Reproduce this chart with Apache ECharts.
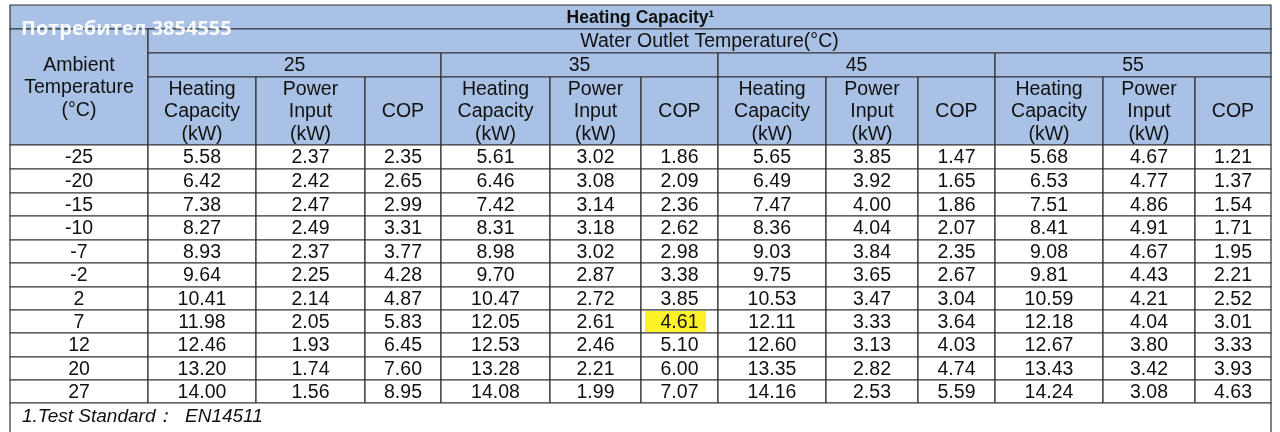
<!DOCTYPE html>
<html><head><meta charset="utf-8">
<script src="https://cdn.jsdelivr.net/npm/echarts@6/dist/echarts.min.js"></script>
<style>html,body{margin:0;padding:0;background:#fff}#c{width:1280px;height:432px}</style>
</head><body><div id="c"></div>
<script>
var title = 'Heating Capacity¹';
var subTitle = 'Water Outlet Temperature(°C)';
var ambientLabel = 'Ambient\nTemperature\n(°C)';
var outletTemps = ['25','35','45','55'];
var colLabels = ['Heating\nCapacity\n(kW)','Power\nInput\n(kW)','COP'];
var ambientTemps = ['-25','-20','-15','-10','-7','-2','2','7','12','20','27'];
var t25 = [[5.58,2.37,2.35],[6.42,2.42,2.65],[7.38,2.47,2.99],[8.27,2.49,3.31],[8.93,2.37,3.77],[9.64,2.25,4.28],[10.41,2.14,4.87],[11.98,2.05,5.83],[12.46,1.93,6.45],[13.20,1.74,7.60],[14.00,1.56,8.95]];
var t35 = [[5.61,3.02,1.86],[6.46,3.08,2.09],[7.42,3.14,2.36],[8.31,3.18,2.62],[8.98,3.02,2.98],[9.70,2.87,3.38],[10.47,2.72,3.85],[12.05,2.61,4.61],[12.53,2.46,5.10],[13.28,2.21,6.00],[14.08,1.99,7.07]];
var t45 = [[5.65,3.85,1.47],[6.49,3.92,1.65],[7.47,4.00,1.86],[8.36,4.04,2.07],[9.03,3.84,2.35],[9.75,3.65,2.67],[10.53,3.47,3.04],[12.11,3.33,3.64],[12.60,3.13,4.03],[13.35,2.82,4.74],[14.16,2.53,5.59]];
var t55 = [[5.68,4.67,1.21],[6.53,4.77,1.37],[7.51,4.86,1.54],[8.41,4.91,1.71],[9.08,4.67,1.95],[9.81,4.43,2.21],[10.59,4.21,2.52],[12.18,4.04,3.01],[12.67,3.80,3.33],[13.43,3.42,3.93],[14.24,3.08,4.63]];
var footnote = '1.Test Standard：  EN14511';
var watermark = 'Потребител 3854555';

// layout
var X = [10,148,256,365,441,550,641,718,826,918,995,1103,1195,1271];
var Y = [5,29,53,77,145,169,193,216,240,263,287,310,333,357,380,403,440];
var HEAD='#a8c1e4';
var groups=[t25,t35,t45,t55];
var cells=[];
function cell(x0,x1,y0,y1,text,fill,opt){cells.push([x0,x1,y0,y1,text,fill,opt||0]);}
cell(X[0],X[13],Y[0],Y[1],title,HEAD,1);
cell(X[0],X[1],Y[1],Y[4],ambientLabel,HEAD);
cell(X[1],X[13],Y[1],Y[2],subTitle,HEAD);
for(var g=0;g<4;g++){
  cell(X[1+3*g],X[4+3*g],Y[2],Y[3],outletTemps[g],HEAD);
  for(var k=0;k<3;k++) cell(X[1+3*g+k],X[2+3*g+k],Y[3],Y[4],colLabels[k],HEAD);
}
for(var r=0;r<ambientTemps.length;r++){
  cell(X[0],X[1],Y[4+r],Y[5+r],ambientTemps[r],'#fff');
  for(var g=0;g<4;g++)for(var k=0;k<3;k++){
    var hl=(g===1&&k===2&&ambientTemps[r]==='7')?2:0;
    cell(X[1+3*g+k],X[2+3*g+k],Y[4+r],Y[5+r],groups[g][r][k].toFixed(2),'#fff',hl);
  }
}
cell(X[0],X[13],Y[15],Y[16],footnote,'#fff',3);

var chart=echarts.init(document.getElementById('c'));
chart.setOption({
  animation:false,
  grid:{left:0,right:0,top:0,bottom:0},
  xAxis:{type:'value',min:0,max:1280,show:false},
  yAxis:{type:'value',min:0,max:432,inverse:true,show:false},
  series:[{
    type:'custom',
    data:cells,
    encode:{x:[0,1],y:[2,3]},
    renderItem:function(params,api){
      var p0=api.coord([api.value(0),api.value(2)]);
      var p1=api.coord([api.value(1),api.value(3)]);
      var text=cells[params.dataIndex][4], opt=api.value(6);
      var w=p1[0]-p0[0],h=p1[1]-p0[1];
      var ch=[{type:'rect',shape:{x:p0[0],y:p0[1],width:w,height:h},
        style:{fill:api.value(5),stroke:'#333',lineWidth:1.2}}];
      if(opt===2){
        ch.push({type:'rect',shape:{x:p0[0]+4,y:p0[1]+1,width:61,height:h-2},style:{fill:'#fdf12a'}});
      }
      ch.push({type:'text',style:{
        text:text,
        x:opt===3?p0[0]+12:p0[0]+w/2, y:opt===3?p0[1]+14:p0[1]+h/2+1,
        align:opt===3?'left':'center',verticalAlign:'middle',
        font:(opt===1?'bold 17.5px':(opt===3?'italic 19px':'19.5px'))+' "Liberation Sans", Arial, sans-serif',
        lineHeight:22.5,fill:'#111'}});
      return {type:'group',children:ch};
    }
  }],
  graphic:[{type:'text',left:21,top:19,z:100,style:{text:watermark,font:'bold 20px "Open Sans", "Noto Sans", sans-serif',fill:'rgba(255,255,255,0.92)'}}]
});
</script></body></html>
